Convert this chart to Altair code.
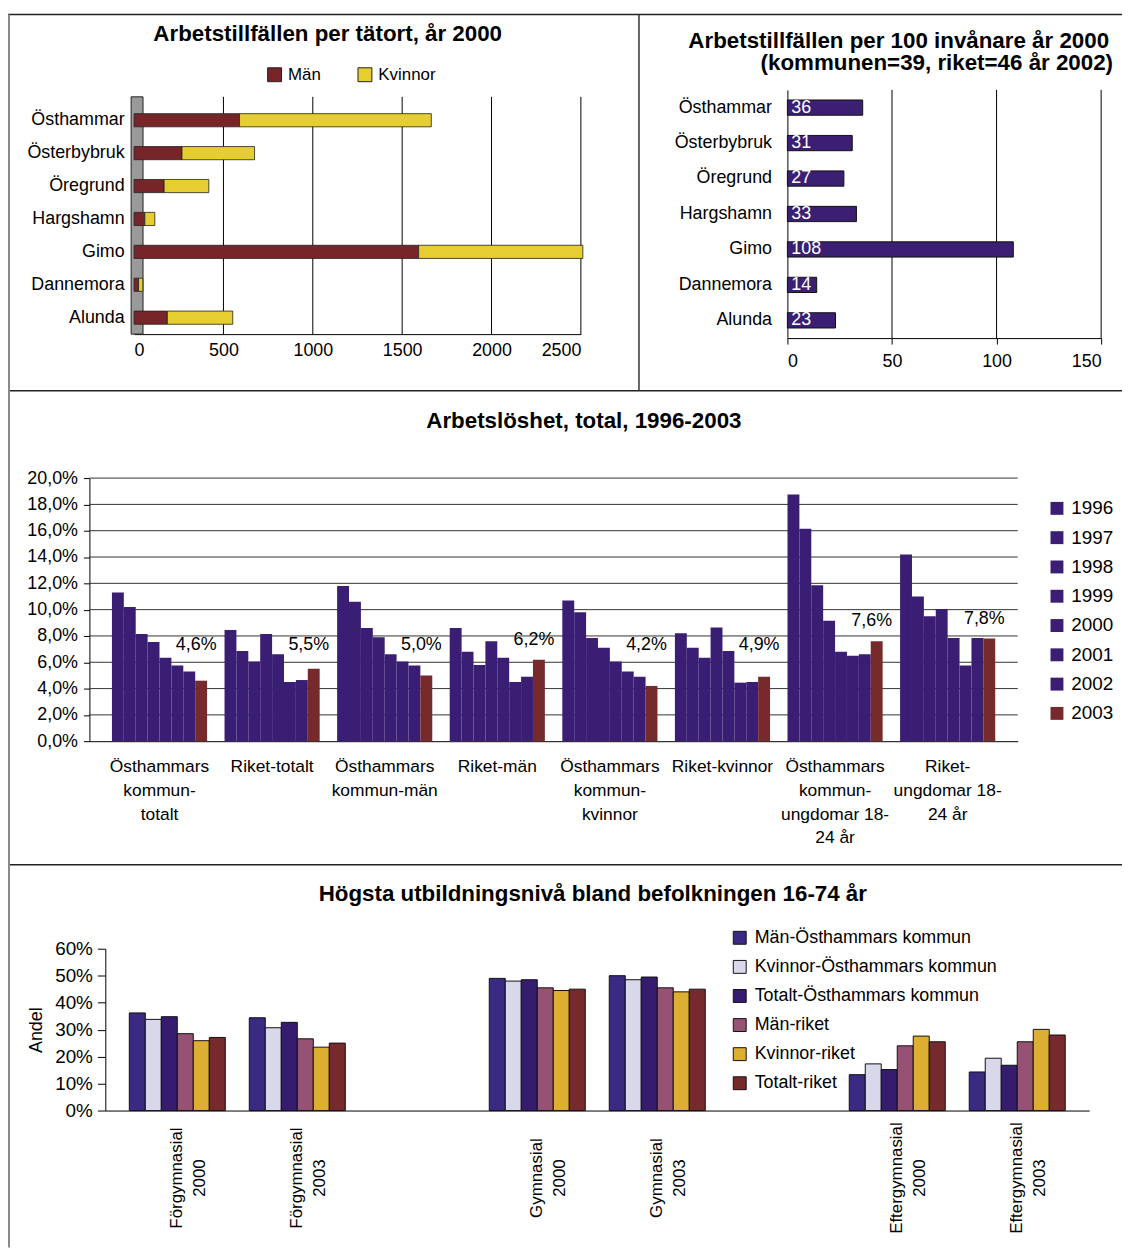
import altair as alt
import pandas as pd

FONT = "Liberation Sans"
CW, CH = 1122, 1244  # whole drawing area

# ---------------- data: panel 1 (Arbetstillfällen per tätort) ----------------
towns = ["Östhammar", "Österbybruk", "Öregrund", "Hargshamn", "Gimo", "Dannemora", "Alunda"]
jobs_man = [590, 268, 168, 60, 1592, 25, 186]
jobs_kvinnor = [1073, 406, 250, 56, 919, 24, 366]
sexes = ["Män", "Kvinnor"]
sex_colors = ["#772529", "#e6cd30"]
tl_ticks = [0, 500, 1000, 1500, 2000, 2500]

# ---------------- data: panel 2 (per 100 invånare) ----------------
jobs_per100 = [36, 31, 27, 33, 108, 14, 23]
tr_ticks = [0, 50, 100, 150]

# ---------------- data: panel 3 (Arbetslöshet) ----------------
unemp_groups = [
    "Östhammars|kommun-|totalt", "Riket-totalt", "Östhammars|kommun-män", "Riket-män",
    "Östhammars|kommun-|kvinnor", "Riket-kvinnor",
    "Östhammars|kommun-|ungdomar 18-|24 år", "Riket-|ungdomar 18-|24 år",
]
years = ["1996", "1997", "1998", "1999", "2000", "2001", "2002", "2003"]
year_colors = ["#3a1e74"] * 7 + ["#762a2b"]
u_osth_totalt = [11.3, 10.2, 8.15, 7.55, 6.35, 5.75, 5.3, 4.6]
u_riket_totalt = [8.45, 6.85, 6.05, 8.15, 6.6, 4.5, 4.65, 5.5]
u_osth_man = [11.8, 10.6, 8.6, 7.9, 6.6, 6.05, 5.75, 5.0]
u_riket_man = [8.6, 6.8, 5.8, 7.6, 6.35, 4.5, 4.9, 6.2]
u_osth_kvinnor = [10.7, 9.8, 7.85, 7.1, 6.05, 5.3, 4.9, 4.2]
u_riket_kvinnor = [8.2, 7.1, 6.35, 8.65, 6.85, 4.45, 4.5, 4.9]
u_osth_ungdom = [18.75, 16.15, 11.85, 9.15, 6.8, 6.5, 6.6, 7.6]
u_riket_ungdom = [14.2, 11.0, 9.5, 10.05, 7.85, 5.75, 7.85, 7.8]
unemp_series = [u_osth_totalt, u_riket_totalt, u_osth_man, u_riket_man,
                u_osth_kvinnor, u_riket_kvinnor, u_osth_ungdom, u_riket_ungdom]
mid_ticks = list(range(0, 21, 2))

# ---------------- data: panel 4 (Utbildningsnivå) ----------------
edu_levels = ["Förgymnasial|2000", "Förgymnasial|2003", "gap1", "Gymnasial|2000",
              "Gymnasial|2003", "gap2", "Eftergymnasial|2000", "Eftergymnasial|2003"]
edu_real = ["Förgymnasial|2000", "Förgymnasial|2003", "Gymnasial|2000",
            "Gymnasial|2003", "Eftergymnasial|2000", "Eftergymnasial|2003"]
edu_series = ["Män-Östhammars kommun", "Kvinnor-Östhammars kommun", "Totalt-Östhammars kommun",
              "Män-riket", "Kvinnor-riket", "Totalt-riket"]
edu_colors = ["#3b2a82", "#d9d7ea", "#361c6e", "#965273", "#dcae32", "#772a2b"]
e_man_osth = [36.2, 34.4, 49.0, 50.0, 13.3, 14.3]
e_kv_osth = [33.8, 30.7, 48.0, 48.5, 17.3, 19.4]
e_tot_osth = [34.8, 32.7, 48.5, 49.5, 15.2, 16.8]
e_man_riket = [28.5, 26.6, 45.5, 45.5, 24.0, 25.5]
e_kv_riket = [25.9, 23.5, 44.5, 44.0, 27.6, 30.1]
e_tot_riket = [27.1, 25.0, 45.0, 45.0, 25.5, 28.0]
edu_values = [e_man_osth, e_kv_osth, e_tot_osth, e_man_riket, e_kv_riket, e_tot_riket]
bot_ticks = [0, 10, 20, 30, 40, 50, 60]

# ---------------- tables ----------------
tl_df = pd.DataFrame({
    "Tätort": towns * 2,
    "Kön": ["Män"] * len(towns) + ["Kvinnor"] * len(towns),
    "Antal": jobs_man + jobs_kvinnor,
    "ord": [0] * len(towns) + [1] * len(towns),
})
tr_df = pd.DataFrame({"Tätort": towns, "Per100": jobs_per100})
mid_rows = []
for g, vals in zip(unemp_groups, unemp_series):
    for y, v in zip(years, vals):
        mid_rows.append({"Grupp": g, "År": y, "Värde": v})
mid_df = pd.DataFrame(mid_rows)
mid_groups_df = pd.DataFrame({"Grupp": unemp_groups})
bot_rows = []
for s, vals in zip(edu_series, edu_values):
    for lvl, v in zip(edu_real, vals):
        bot_rows.append({"Nivå": lvl, "Serie": s, "Andel": v})
bot_df = pd.DataFrame(bot_rows)
bot_levels_df = pd.DataFrame({"Nivå": edu_real})


def one():
    return pd.DataFrame({"k": [0]})


def hline(y, x1=0, x2=CW, color="#222", w=1.5):
    return alt.Chart(one()).mark_rule(color=color, strokeWidth=w).encode(
        x=alt.value(x1), x2=alt.value(x2), y=alt.value(y))


def vline(x, y1, y2, color="#333", w=1.5):
    return alt.Chart(one()).mark_rule(color=color, strokeWidth=w).encode(
        x=alt.value(x), y=alt.value(y1), y2=alt.value(y2))


def title_text(txt, x, y, align="center"):
    return alt.Chart(one()).mark_text(
        text=txt, font=FONT, fontSize=22.5, fontWeight="bold", align=align,
        baseline="alphabetic", color="black").encode(x=alt.value(x), y=alt.value(y))


# ---------------- panel TL ----------------
tl_xs = alt.Scale(domain=[0, 2500], range=[127, 577])
tl_ys = alt.Scale(domain=towns, range=[92, 324], paddingInner=0.6)
tl_xaxis = alt.Axis(title=None, orient="bottom", offset=324 - CH, values=tl_ticks,
                    format="d", labelFontSize=18, grid=False, ticks=False, labelPadding=8)
tl_grid = alt.Chart(pd.DataFrame({"v": tl_ticks[1:]})).mark_rule(
    color="black", strokeWidth=1).encode(
    x=alt.X("v:Q", scale=tl_xs, axis=tl_xaxis), y=alt.value(85), y2=alt.value(324))
tl_wall = alt.Chart(one()).mark_rect(fill="#9a9a9a", stroke="#222", strokeWidth=1).encode(
    x=alt.value(124), x2=alt.value(136), y=alt.value(85), y2=alt.value(324))
tl_bars = alt.Chart(tl_df).mark_bar(stroke="#222", strokeWidth=0.8).encode(
    y=alt.Y("Tätort:N", sort=towns, scale=tl_ys,
            axis=alt.Axis(title=None, orient="left", offset=-127, labelFontSize=18,
                          labelPadding=10, ticks=False, grid=False, domain=False)),
    x=alt.X("Antal:Q", stack="zero", scale=tl_xs, axis=tl_xaxis),
    color=alt.Color("Kön:N", scale=alt.Scale(domain=sexes, range=sex_colors),
                    legend=alt.Legend(title=None, orient="none", legendX=260, legendY=54,
                                      direction="horizontal", symbolType="square",
                                      symbolSize=196, symbolStrokeColor="#222",
                                      symbolStrokeWidth=1, labelFontSize=17,
                                      columnPadding=34, labelOffset=5)),
    order=alt.Order("ord:Q"),
)
tl = alt.layer(tl_grid, tl_wall, tl_bars)

# ---------------- panel TR ----------------
tr_xs = alt.Scale(domain=[0, 150], range=[785, 1101])
tr_ys = alt.Scale(domain=towns, range=[78, 328], paddingInner=0.57)
tr_xaxis = alt.Axis(title=None, orient="bottom", offset=328 - CH, values=tr_ticks,
                    labelFontSize=18, grid=False, tickSize=6, labelPadding=9)
tr_grid = alt.Chart(pd.DataFrame({"v": tr_ticks[1:]})).mark_rule(
    color="black", strokeWidth=1).encode(
    x=alt.X("v:Q", scale=tr_xs, axis=tr_xaxis), y=alt.value(78), y2=alt.value(328))
tr_base = alt.Chart(tr_df).encode(
    y=alt.Y("Tätort:N", sort=towns, scale=tr_ys,
            axis=alt.Axis(title=None, orient="left", offset=-785, labelFontSize=18,
                          labelPadding=16, ticks=False, grid=False)))
tr_bars = tr_base.mark_bar(color="#3a1f72", stroke="#111", strokeWidth=1).encode(
    x=alt.X("Per100:Q", scale=tr_xs, axis=tr_xaxis))
tr_text = tr_base.mark_text(align="left", baseline="middle", dx=4, color="white",
                            fontSize=18, font=FONT).encode(
    x=alt.X(datum=0, scale=tr_xs, axis=tr_xaxis), text="Per100:Q")
tr = alt.layer(tr_grid, tr_bars, tr_text)

# ---------------- panel MID ----------------
mid_xs = alt.Scale(domain=unemp_groups, range=[82, 1017], paddingInner=0.155)
mid_ys = alt.Scale(domain=[0, 20], range=[734, 469])
mid_yaxis = alt.Axis(title=None, orient="left", offset=-82, values=mid_ticks,
                     labelExpr="replace(format(datum.value, '.1f'), '.', ',') + '%'",
                     labelFontSize=18, grid=False, tickSize=6, labelPadding=6)
mid_x = alt.X("Grupp:N", sort=unemp_groups, scale=mid_xs,
              axis=alt.Axis(title=None, orient="bottom", offset=734 - CH, labels=False,
                            ticks=False, grid=False))
mid_xo = alt.XOffset("År:N", sort=years, scale=alt.Scale(paddingInner=0, paddingOuter=0))
mid_grid = alt.Chart(pd.DataFrame({"v": mid_ticks[1:]})).mark_rule(
    color="#333", strokeWidth=1).encode(
    y=alt.Y("v:Q", scale=mid_ys, axis=mid_yaxis), x=alt.value(82), x2=alt.value(1017))
mid_bars = alt.Chart(mid_df).mark_bar().encode(
    x=mid_x, xOffset=mid_xo,
    y=alt.Y("Värde:Q", stack=None, scale=mid_ys, axis=mid_yaxis),
    color=alt.Color("År:N", scale=alt.Scale(domain=years, range=year_colors),
                    legend=alt.Legend(title=None, orient="none", legendX=1047, legendY=490,
                                      symbolType="square", symbolSize=169,
                                      symbolStrokeWidth=0, labelFontSize=19,
                                      rowPadding=9.5, labelOffset=5)),
)
mid_labels = alt.Chart(mid_df).transform_filter("datum['År'] == '2003'").transform_calculate(
    ly="max(datum['Värde'] + 1.5, 7.3)",
    txt="replace(format(datum['Värde'], '.1f'), '.', ',') + '%'",
).mark_text(dx=-5, baseline="middle", align="center", fontSize=18, font=FONT,
            color="black").encode(
    x=mid_x, xOffset=mid_xo, y=alt.Y("ly:Q", scale=mid_ys, axis=mid_yaxis), text="txt:N")
mid_xlabels = alt.Chart(mid_groups_df).mark_text(
    lineBreak="|", lineHeight=24, baseline="top", align="center", fontSize=17.5,
    font=FONT, color="black").encode(x=mid_x, y=alt.value(751), text="Grupp:N")
mid = alt.layer(mid_grid, mid_bars, mid_labels, mid_xlabels)

# ---------------- panel BOT ----------------
bot_xs = alt.Scale(domain=edu_levels, range=[98, 1089], paddingInner=0.2)
bot_ys = alt.Scale(domain=[0, 60], range=[1106, 943])
bot_x = alt.X("Nivå:N", sort=edu_levels, scale=bot_xs,
              axis=alt.Axis(title=None, orient="bottom", offset=1106 - CH, labels=False,
                            ticks=False, grid=False))
bot_bars = alt.Chart(bot_df).mark_bar(stroke="#111", strokeWidth=1).encode(
    x=bot_x,
    xOffset=alt.XOffset("Serie:N", sort=edu_series,
                        scale=alt.Scale(domain=edu_series, paddingInner=0, paddingOuter=0)),
    y=alt.Y("Andel:Q", stack=None, scale=bot_ys,
            axis=alt.Axis(title="Andel", orient="left", offset=-98, titleFontSize=18,
                          titleFontWeight="normal", titleColor="black", titlePadding=9,
                          values=bot_ticks, labelExpr="datum.value + '%'",
                          labelFontSize=19, grid=False, tickSize=8, labelPadding=5)),
    color=alt.Color("Serie:N", scale=alt.Scale(domain=edu_series, range=edu_colors),
                    legend=alt.Legend(title=None, orient="none", legendX=728, legendY=923,
                                      symbolType="square", symbolSize=169,
                                      symbolStrokeColor="#111", symbolStrokeWidth=1,
                                      labelFontSize=18, rowPadding=11.3, labelOffset=6,
                                      labelLimit=400)),
)
bot_xlabels = alt.Chart(bot_levels_df).mark_text(
    lineBreak="|", lineHeight=23, angle=270, baseline="middle", align="center",
    fontSize=17, font=FONT, color="black").encode(
    x=bot_x, y=alt.value(1174), text="Nivå:N")
bot = alt.layer(bot_bars, bot_xlabels)

# ---------------- frame lines and titles ----------------
frame_layers = [
    hline(2), hline(381), hline(858.5),
    vline(1, 2, CH, color="#8a8a8a", w=2), vline(635.5, 2, 381),
]
titles = [
    title_text("Arbetstillfällen per tätort, år 2000", 322, 29),
    title_text("Arbetstillfällen per 100 invånare år 2000", 1109, 35.5, align="right"),
    title_text("(kommunen=39, riket=46 år 2002)", 1113, 58, align="right"),
    title_text("Arbetslöshet, total, 1996-2003", 580, 419),
    title_text("Högsta utbildningsnivå bland befolkningen 16-74 år", 589, 895),
]

chart = alt.layer(*frame_layers, tl, tr, mid, bot, *titles).resolve_scale(
    x="independent", y="independent", color="independent", xOffset="independent"
).properties(
    width=CW, height=CH, padding=0, autosize=alt.AutoSizeParams(type="none")
).configure_view(stroke=None).configure_axis(
    labelFont=FONT, titleFont=FONT, labelColor="black", domainColor="black",
    tickColor="black", domainWidth=1,
).configure_legend(labelFont=FONT, labelColor="black").configure_text(font=FONT)

chart.save("out.html", embed_options={"renderer": "svg", "actions": False})
